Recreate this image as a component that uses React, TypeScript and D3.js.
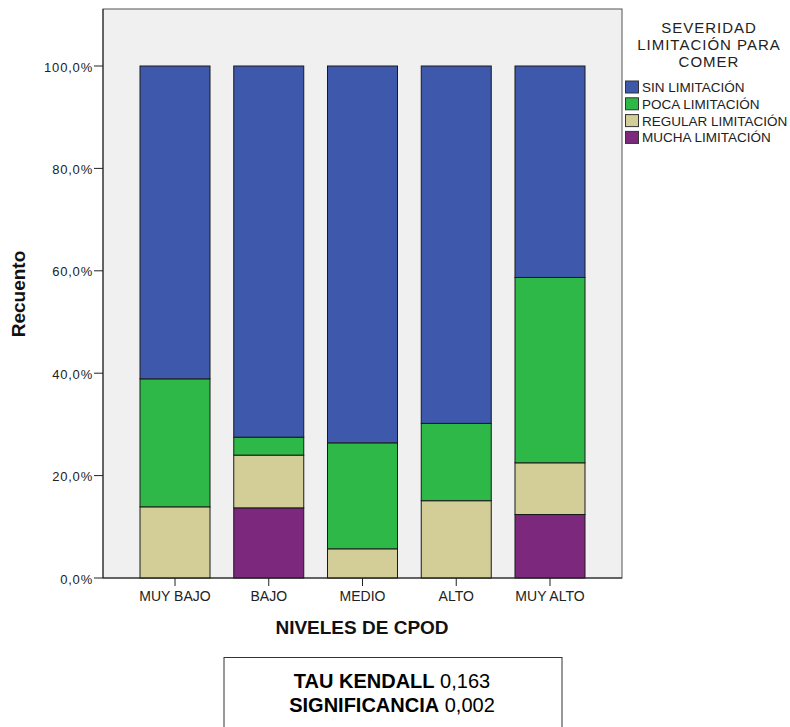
import { useEffect, useRef } from 'react';
import * as d3 from 'd3';

const categories = ['MUY BAJO', 'BAJO', 'MEDIO', 'ALTO', 'MUY ALTO'];
const seriesNames = ['SIN LIMITACIÓN', 'POCA LIMITACIÓN', 'REGULAR LIMITACIÓN', 'MUCHA LIMITACIÓN'];
const seriesColors = ['#3e58ac', '#2eb848', '#d3ce97', '#7c287d'];

// percentages per nivel de CPOD
const sinLimitacion = [61.1, 72.5, 73.6, 69.8, 41.3];
const pocaLimitacion = [25.0, 3.5, 20.7, 15.1, 36.2];
const regularLimitacion = [13.9, 10.3, 5.7, 15.1, 10.1];
const muchaLimitacion = [0, 13.7, 0, 0, 12.4];

const yTicks = [0, 20, 40, 60, 80, 100];
const legendTitle = ['SEVERIDAD', 'LIMITACIÓN PARA', 'COMER'];
const stats = [
  { label: 'TAU KENDALL', value: '0,163' },
  { label: 'SIGNIFICANCIA', value: '0,002' },
];

const FONT = '"Liberation Sans", Arial, sans-serif';

export default function App() {
  const svgRef = useRef<SVGSVGElement>(null);

  useEffect(() => {
    if (!svgRef.current) return;
    const svg = d3.select(svgRef.current);
    svg.selectAll('*').remove();

    const left = 103, right = 622, top = 9, bottom = 578;

    const rows = categories.map((c, i) => ({
      cat: c,
      'SIN LIMITACIÓN': sinLimitacion[i],
      'POCA LIMITACIÓN': pocaLimitacion[i],
      'REGULAR LIMITACIÓN': regularLimitacion[i],
      'MUCHA LIMITACIÓN': muchaLimitacion[i],
    }));

    const x = d3.scaleBand<string>().domain(categories).range([left, right])
      .paddingInner(0.2533).paddingOuter(0.3947);
    const y = d3.scaleLinear().domain([0, 100]).range([bottom, 66]);
    const color = d3.scaleOrdinal<string>().domain(seriesNames).range(seriesColors);

    // plot background
    svg.append('rect')
      .attr('x', left).attr('y', top)
      .attr('width', right - left).attr('height', bottom - top)
      .attr('fill', '#f0f0f0')
      .attr('stroke', '#555').attr('stroke-width', 1);

    // stacked bars, bottom = mucha
    const stackKeys = [...seriesNames].reverse();
    const stacked = d3.stack<any>().keys(stackKeys)(rows as any);

    svg.append('g').selectAll('g').data(stacked).join('g')
      .attr('fill', d => color(d.key))
      .selectAll('rect').data(d => d.filter(p => p[1] - p[0] > 0)).join('rect')
      .attr('x', d => x(d.data.cat)!)
      .attr('width', x.bandwidth())
      .attr('y', d => y(d[1]))
      .attr('height', d => y(d[0]) - y(d[1]))
      .attr('stroke', '#1a1a1a').attr('stroke-width', 1);

    // y axis
    const yAxis = svg.append('g');
    yAxis.append('line')
      .attr('x1', left).attr('x2', left).attr('y1', top).attr('y2', bottom)
      .attr('stroke', '#222');
    const yt = yAxis.selectAll('g.t').data(yTicks).join('g').attr('class', 't');
    yt.append('line')
      .attr('x1', left - 9).attr('x2', left)
      .attr('y1', d => y(d)).attr('y2', d => y(d))
      .attr('stroke', '#222');
    yt.append('text')
      .attr('x', 93).attr('y', d => y(d) + 5.5)
      .attr('text-anchor', 'end')
      .attr('font-family', FONT).attr('font-size', 13)
      .attr('letter-spacing', 0.8)
      .attr('fill', '#222')
      .text(d => `${d3.format('.1f')(d).replace('.', ',')}%`);

    // x axis
    const xAxis = svg.append('g');
    xAxis.append('line')
      .attr('x1', left).attr('x2', right).attr('y1', bottom).attr('y2', bottom)
      .attr('stroke', '#222');
    const xt = xAxis.selectAll('g.t').data(categories).join('g').attr('class', 't');
    xt.append('line')
      .attr('x1', d => x(d)! + x.bandwidth() / 2).attr('x2', d => x(d)! + x.bandwidth() / 2)
      .attr('y1', bottom).attr('y2', bottom + 8)
      .attr('stroke', '#222');
    xt.append('text')
      .attr('x', d => x(d)! + x.bandwidth() / 2).attr('y', 601)
      .attr('text-anchor', 'middle')
      .attr('font-family', FONT).attr('font-size', 14)
      .attr('fill', '#222')
      .text(d => d);

    // axis titles
    svg.append('text')
      .attr('transform', 'translate(25,294) rotate(-90)')
      .attr('text-anchor', 'middle')
      .attr('font-family', FONT).attr('font-size', 19).attr('font-weight', 700)
      .attr('fill', '#111')
      .text('Recuento');
    svg.append('text')
      .attr('x', 362).attr('y', 634)
      .attr('text-anchor', 'middle')
      .attr('font-family', FONT).attr('font-size', 19).attr('font-weight', 700)
      .attr('fill', '#111')
      .text('NIVELES DE CPOD');

    // legend
    const legend = svg.append('g');
    legend.selectAll('text.title').data(legendTitle).join('text')
      .attr('class', 'title')
      .attr('x', 709).attr('y', (_, i) => 32.5 + i * 17.3)
      .attr('text-anchor', 'middle')
      .attr('font-family', FONT).attr('font-size', 15)
      .attr('letter-spacing', 1)
      .attr('fill', '#222')
      .text(d => d);
    const items = legend.selectAll('g.item').data(seriesNames).join('g')
      .attr('class', 'item')
      .attr('transform', (_, i) => `translate(625,${87 + i * 16.8})`);
    items.append('rect')
      .attr('x', 0.5).attr('y', -6).attr('width', 13).attr('height', 12)
      .attr('fill', d => color(d))
      .attr('stroke', '#333').attr('stroke-width', 1);
    items.append('text')
      .attr('x', 17).attr('y', 5)
      .attr('font-family', FONT).attr('font-size', 13.5)
      .attr('fill', '#222')
      .text(d => d);

    // statistics box
    svg.append('rect')
      .attr('x', 224).attr('y', 657.5).attr('width', 338).attr('height', 100)
      .attr('fill', '#fff').attr('stroke', '#333').attr('stroke-width', 1);
    const st = svg.selectAll('text.stat').data(stats).join('text')
      .attr('class', 'stat')
      .attr('x', 392).attr('y', (_, i) => 688 + i * 23.5)
      .attr('text-anchor', 'middle')
      .attr('font-family', FONT).attr('font-size', 20)
      .attr('fill', '#000');
    st.append('tspan').attr('font-weight', 700).text(d => d.label);
    st.append('tspan').text(d => ` ${d.value}`);
  }, []);

  return (
    <svg
      ref={svgRef}
      width={790}
      height={727}
      style={{ position: 'absolute', left: 0, top: 0, background: '#fff' }}
    />
  );
}
